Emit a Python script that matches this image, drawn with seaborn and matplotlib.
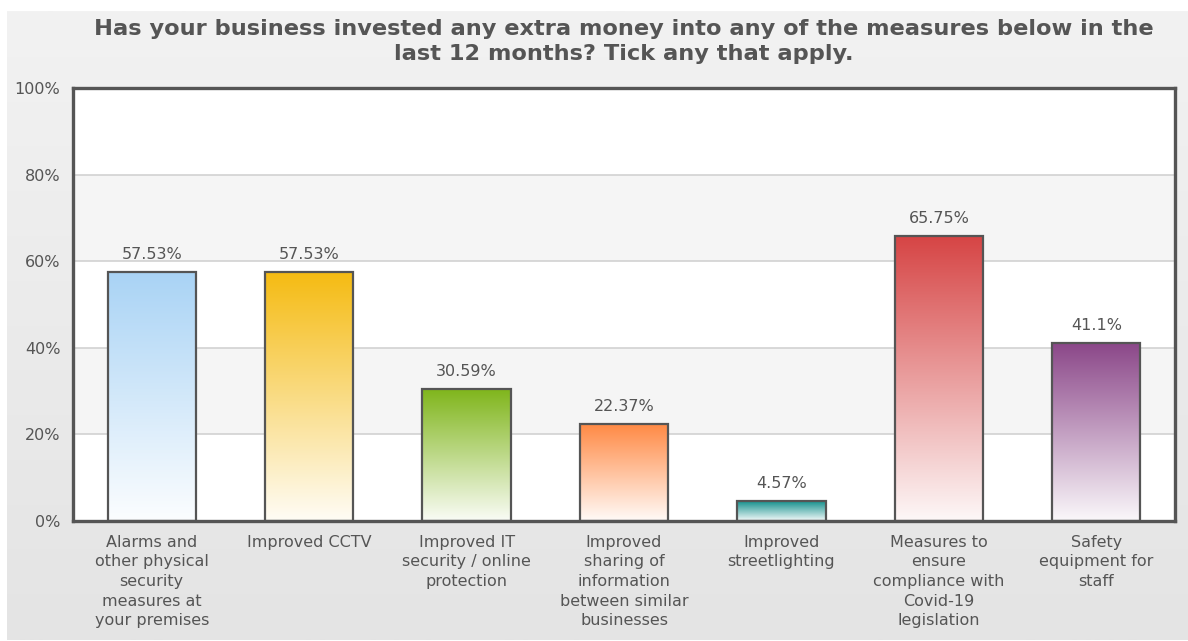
import numpy as np
import matplotlib
matplotlib.use('Agg')
import matplotlib.pyplot as plt
import seaborn as sns
import pandas as pd
from matplotlib.colors import LinearSegmentedColormap, to_rgb

categories = [
    "Alarms and\nother physical\nsecurity\nmeasures at\nyour premises",
    "Improved CCTV",
    "Improved IT\nsecurity / online\nprotection",
    "Improved\nsharing of\ninformation\nbetween similar\nbusinesses",
    "Improved\nstreetlighting",
    "Measures to\nensure\ncompliance with\nCovid-19\nlegislation",
    "Safety\nequipment for\nstaff",
]
values = [57.53, 57.53, 30.59, 22.37, 4.57, 65.75, 41.1]
value_labels = ["57.53%", "57.53%", "30.59%", "22.37%", "4.57%", "65.75%", "41.1%"]
top_colors = ["#a9d3f5", "#f5bb12", "#7fb51a", "#ff8a45", "#16918e", "#d64545", "#8b4789"]
yticks = [0, 20, 40, 60, 80, 100]
ytick_labels = ["0%", "20%", "40%", "60%", "80%", "100%"]
title = ("Has your business invested any extra money into any of the measures below in the\n"
         "last 12 months? Tick any that apply.")

sns.set_theme(style="white")
plt.rcParams['font.family'] = ['DejaVu Sans']

W, H = 1188, 641
fig = plt.figure(figsize=(W / 100, H / 100), dpi=100)
fig.patch.set_facecolor("white")

# background gradient panel
bg = fig.add_axes([7 / W, 1 / H, (W - 7) / W, (H - 12) / H], zorder=-10)
grad = np.linspace(0, 1, 256).reshape(-1, 1)
bg.imshow(grad, aspect='auto', extent=[0, 1, 0, 1], origin='lower',
          cmap=LinearSegmentedColormap.from_list('bg', ['#e4e4e4', '#f2f2f2']))
bg.axis('off')

left, right, top, bottom = 73, 1175, 88, 521
ax = fig.add_axes([left / W, 1 - bottom / H, (right - left) / W, (bottom - top) / H])
ax.set_facecolor("white")

df = pd.DataFrame({"category": categories, "value": values})
sns.barplot(data=df, x="category", y="value", hue="category", palette=top_colors,
            legend=False, ax=ax, width=0.56, edgecolor="#555555", linewidth=1.6,
            saturation=1, zorder=3)

ax.set_ylim(0, 100)
xlim = ax.get_xlim()

# alternating bands and grid
for lo, hi in [(20, 40), (60, 80)]:
    ax.axhspan(lo, hi, color="#f5f5f5", zorder=0, lw=0)
for y in [20, 40, 60, 80]:
    ax.axhline(y, color="#d2d2d2", lw=1.2, zorder=1)

# gradient fills
for patch, col in zip(ax.patches, top_colors):
    x0, y0 = patch.get_x(), patch.get_y()
    w, h = patch.get_width(), patch.get_height()
    c = np.array(to_rgb(col))
    cm = LinearSegmentedColormap.from_list('g', [c * 0.04 + 0.96, c])
    im = ax.imshow(grad, aspect='auto', cmap=cm, origin='lower',
                   extent=[x0, x0 + w, y0, y0 + h], zorder=2)
    im.set_clip_path(patch)
    patch.set_facecolor('none')

for i, (v, lab) in enumerate(zip(values, value_labels)):
    ax.text(i, v + 2.3, lab, ha='center', va='bottom', fontsize=11.5, color="#555555")

ax.set_xlim(xlim)
ax.set_ylim(0, 100)
ax.set_yticks(yticks)
ax.set_yticklabels(ytick_labels)
ax.set_xlabel("")
ax.set_ylabel("")
ax.tick_params(axis='both', length=0, colors="#555555", labelsize=11.5)
ax.tick_params(axis='y', pad=9)
ax.tick_params(axis='x', pad=10)
for lab in ax.get_xticklabels():
    lab.set_multialignment('center')
    lab.set_linespacing(1.38)
for s in ax.spines.values():
    s.set_visible(True)
    s.set_color("#555555")
    s.set_linewidth(2.4)
    s.set_zorder(5)

fig.text(624 / W, 1 - 19 / H, title, ha='center', va='top', fontsize=16.2,
         fontweight='bold', color="#555555", multialignment='center', linespacing=1.3)

fig.savefig("out.png", dpi=100)
